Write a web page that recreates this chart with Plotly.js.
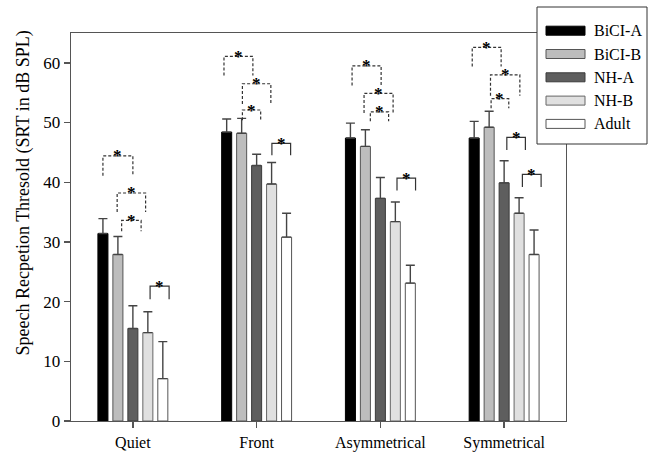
<!DOCTYPE html>
<html>
<head>
<meta charset="utf-8">
<script src="https://cdn.plot.ly/plotly-3.0.1.min.js"></script>
<style>html,body{margin:0;padding:0;background:#fff;}#chart{width:648px;height:459px;}</style>
</head>
<body>
<div id="chart"></div>
<script>
// ---- data ----
const categories = ["Quiet", "Front", "Asymmetrical", "Symmetrical"];
const seriesNames = ["BiCI-A", "BiCI-B", "NH-A", "NH-B", "Adult"];
const biciA = [31.4, 48.4, 47.4, 47.4];
const biciB = [27.9, 48.2, 46.0, 49.2];
const nhA   = [15.5, 42.8, 37.3, 39.9];
const nhB   = [14.8, 39.7, 33.4, 34.8];
const adult = [7.1, 30.8, 23.1, 27.9];
const biciAErr = [2.5, 2.2, 2.5, 2.8];
const biciBErr = [3.0, 2.5, 2.8, 2.7];
const nhAErr   = [3.8, 1.9, 3.5, 3.7];
const nhBErr   = [3.5, 3.6, 3.3, 2.6];
const adultErr = [6.2, 4.0, 3.0, 4.1];
const yTitle = "Speech Recpetion Thresold (SRT in dB SPL)";
// significance brackets: category index, from/to bar slot, top level, leg end level, dashed?
const bracketCat    = [0, 0, 0, 0,   1, 1, 1, 1,   2, 2, 2, 2,   3, 3, 3, 3, 3];
const bracketFrom   = [0, 0.95, 1.25, 3.15,  -0.18, 1.05, 1.05, 3.02,  0.11, 0.91, 1.33, 3.11,  -0.13, 1.09, 1.13, 2.18, 3.22];
const bracketTo     = [2, 2.85, 2.55, 4.42,  1.75, 2.95, 2.27, 4.27,  2.05, 2.85, 2.55, 4.35,  1.8, 3.05, 2.31, 3.42, 4.47];
const bracketTop    = [44.4, 38.2, 33.6, 22.6,  61.1, 56.5, 52.1, 46.5,  59.5, 54.9, 51.8, 40.7,  62.6, 58.0, 54.0, 47.5, 41.3];
const bracketBottom = [41.1, 35.0, 31.8, 20.4,  57.9, 53.1, 50.4, 44.5,  56.2, 51.6, 50.2, 38.6,  59.4, 54.5, 52.4, 45.4, 39.2];
const bracketDashed = [true, true, true, false,  true, true, true, false,  true, true, true, false,  true, true, true, false, false];

// ---- styles ----
const fills = ["#000000", "#bdbdbd", "#5e5e5e", "#e0e0e0", "#ffffff"];
const outlines = ["#000000", "#555555", "#3a3a3a", "#666666", "#555555"];
const FONT = "Liberation Serif, Times New Roman, serif";
const values = [biciA, biciB, nhA, nhB, adult];
const errs = [biciAErr, biciBErr, nhAErr, nhBErr, adultErr];

const bargap = 0.395;
const slot = (1 - bargap) / seriesNames.length;
const catIdx = categories.map((c, i) => i);

const traces = seriesNames.map((name, s) => ({
  type: "bar",
  name: name,
  x: catIdx,
  y: values[s],
  marker: {color: fills[s], line: {color: outlines[s], width: 1}},
  error_y: {type: "data", symmetric: false, array: errs[s],
            arrayminus: values[s].map(() => 0), color: "#444", thickness: 1.4, width: 4.5},
  showlegend: false,
  hoverinfo: "skip"
}));

const shapes = [];
const annotations = [];
function slotX(cat, k) { return cat + (k - (seriesNames.length - 1) / 2) * slot; }
for (let i = 0; i < bracketCat.length; i++) {
  const x0 = slotX(bracketCat[i], bracketFrom[i]);
  const x1 = slotX(bracketCat[i], bracketTo[i]);
  const yT = bracketTop[i], yB = bracketBottom[i];
  shapes.push({type: "path", xref: "x", yref: "y",
    path: `M${x0},${yB} L${x0},${yT} L${x1},${yT} L${x1},${yB}`,
    line: {color: "#333", width: 1.2, dash: bracketDashed[i] ? "3px,2px" : "solid"}});
  annotations.push({x: (x0 + x1) / 2, y: yT, xref: "x", yref: "y", text: "<b>*</b>", showarrow: false,
    yanchor: "middle", yshift: 0, font: {family: FONT, size: 17, color: "#000"}});
}

// pixel positions converted to paper coords
const plotL = 71, plotR = 566, plotT = 33, plotB = 421;
const px = v => (v - plotL) / (plotR - plotL);
const py = v => (plotB - v) / (plotB - plotT);

// y-axis title
annotations.push({x: px(23), y: py(193.5), xref: "paper", yref: "paper", text: yTitle,
  textangle: -90, showarrow: false, xanchor: "center", yanchor: "middle",
  font: {family: FONT, size: 18, color: "#000"}});

// custom legend
shapes.push({type: "rect", xref: "paper", yref: "paper", layer: "above",
  x0: px(537), x1: px(647), y0: py(144), y1: py(7),
  fillcolor: "#fff", line: {color: "#333", width: 1}});
seriesNames.forEach((name, s) => {
  const cy = 30.7 + s * 23.3;
  shapes.push({type: "rect", xref: "paper", yref: "paper", layer: "above",
    x0: px(546), x1: px(585), y0: py(cy + 4.5), y1: py(cy - 4.5),
    fillcolor: fills[s], line: {color: outlines[s], width: 1}});
  annotations.push({x: px(592), y: py(cy), xref: "paper", yref: "paper", text: name,
    showarrow: false, xanchor: "left", yanchor: "middle",
    font: {family: FONT, size: 16, color: "#000"}});
});

const layout = {
  width: 648, height: 459,
  margin: {l: plotL, r: 648 - plotR, t: plotT, b: 459 - plotB, pad: 0},
  paper_bgcolor: "#fff", plot_bgcolor: "#fff",
  barmode: "group", bargap: bargap, bargroupgap: 0.33,
  font: {family: FONT, size: 16, color: "#000"},
  xaxis: {
    tickmode: "array", tickvals: catIdx, ticktext: categories,
    range: [-0.5, categories.length - 0.5],
    showline: true, linecolor: "#555", linewidth: 1.3, mirror: true,
    ticks: "outside", ticklen: 6, tickcolor: "#555", tickwidth: 1.3,
    showgrid: false, zeroline: false,
    tickfont: {family: FONT, size: 16, color: "#000"}
  },
  yaxis: {
    range: [0, 65], tickvals: [0, 10, 20, 30, 40, 50, 60],
    showline: true, linecolor: "#555", linewidth: 1.3, mirror: true,
    ticks: "outside", ticklen: 6, tickcolor: "#555", tickwidth: 1.3,
    showgrid: false, zeroline: false,
    tickfont: {family: FONT, size: 17, color: "#000"}
  },
  shapes: shapes,
  annotations: annotations
};

Plotly.newPlot("chart", traces, layout, {displayModeBar: false, staticPlot: true});
</script>
</body>
</html>
